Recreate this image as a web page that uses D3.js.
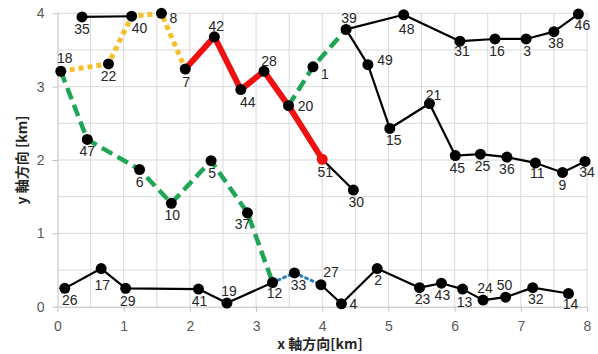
<!DOCTYPE html>
<html>
<head>
<meta charset="utf-8">
<script src="https://cdn.jsdelivr.net/npm/d3@7"></script>
<style>
  body { margin: 0; background: #fff; }
  .tick text { font-family: "Liberation Sans", Arial, sans-serif; font-size: 14px; fill: #595959; }
  .ptlabel { font-family: "Liberation Sans", Arial, sans-serif; font-size: 14px; fill: #262626; }
  .title { font-family: "Noto Sans CJK JP", sans-serif; font-size: 14px; font-weight: bold; fill: #262626; }
</style>
</head>
<body>
<script>
// point numbers and their coordinates [km]
var ids = [35, 40, 8, 18, 22, 7, 42, 44, 28, 20, 47, 6, 5, 39, 48, 31, 16, 3, 38, 46,
           1, 49, 15, 21, 45, 25, 36, 11, 9, 34, 51, 10, 37, 26, 17, 29, 41, 19, 12, 33,
           30, 27, 4, 2, 23, 43, 13, 24, 50, 32, 14];
var xKm = [0.37, 1.12, 1.57, 0.05, 0.77, 1.93, 2.37, 2.77, 3.12, 3.49, 0.45, 1.24, 2.32, 4.36, 5.23, 6.08, 6.61, 7.08, 7.50, 7.87,
           3.86, 4.69, 5.02, 5.62, 6.01, 6.39, 6.79, 7.22, 7.63, 7.97, 4.00, 1.72, 2.87, 0.11, 0.66, 1.03, 2.13, 2.56, 3.25, 3.58,
           4.47, 3.98, 4.29, 4.83, 5.47, 5.80, 6.12, 6.43, 6.77, 7.18, 7.72];
var yKm = [3.95, 3.96, 4.00, 3.21, 3.31, 3.24, 3.68, 2.96, 3.21, 2.74, 2.28, 1.87, 1.99, 3.78, 3.98, 3.62, 3.65, 3.65, 3.75, 3.99,
           3.27, 3.30, 2.43, 2.77, 2.06, 2.08, 2.04, 1.96, 1.83, 1.98, 2.01, 1.41, 1.28, 0.25, 0.52, 0.25, 0.24, 0.05, 0.33, 0.46,
           1.59, 0.30, 0.04, 0.52, 0.26, 0.32, 0.24, 0.09, 0.13, 0.26, 0.18];

// routes, as sequences of point numbers
var blackRoutes = [[35, 40], [51, 30], [39, 48, 31, 16, 3, 38, 46],
                   [39, 49, 15, 21, 45, 25, 36, 11, 9, 34],
                   [26, 17, 29, 41, 19, 12], [27, 4, 2, 23, 43, 13, 24, 50, 32, 14]];
var yellowRoutes = [[18, 22, 40, 8, 7]];
var redRoutes = [[7, 42, 44, 28, 20, 51]];
var greenRoutes = [[18, 47, 6, 10, 5, 37, 12], [20, 1, 39]];
var blueRoutes = [[12, 33, 27]];

var xTicks = [0, 1, 2, 3, 4, 5, 6, 7, 8];
var yTicks = [0, 1, 2, 3, 4];

var margin = {top: 13.3, right: 11, bottom: 47.3, left: 57.5},
    W = 598, H = 354,
    width = W - margin.left - margin.right,
    height = H - margin.top - margin.bottom;

var svg = d3.select("body").append("svg")
    .attr("width", W)
    .attr("height", H);

var g = svg.append("g")
    .attr("transform", "translate(" + margin.left + "," + margin.top + ")");

var x = d3.scaleLinear().domain([0, 8]).range([0, width]);
var y = d3.scaleLinear().domain([0, 4]).range([height, 0]);

var pts = {};
ids.forEach(function(id, i) { pts[id] = {id: id, x: xKm[i], y: yKm[i]}; });

// grid every 0.5 km
g.append("g").selectAll("line")
    .data(d3.range(0.5, 8.01, 0.5))
    .enter().append("line")
    .attr("x1", function(d) { return x(d); }).attr("x2", function(d) { return x(d); })
    .attr("y1", 0).attr("y2", height)
    .attr("stroke", "#d9d9d9");
g.append("g").selectAll("line")
    .data(d3.range(0.5, 4.01, 0.5))
    .enter().append("line")
    .attr("x1", 0).attr("x2", width)
    .attr("y1", function(d) { return y(d); }).attr("y2", function(d) { return y(d); })
    .attr("stroke", "#d9d9d9");

// axes
var xAxis = d3.axisBottom(x).tickValues(xTicks).tickSize(5).tickPadding(9).tickFormat(d3.format("d"));
var yAxis = d3.axisLeft(y).tickValues(yTicks).tickSize(5).tickPadding(8).tickFormat(d3.format("d"));

var gx = g.append("g").attr("transform", "translate(0," + height + ")").call(xAxis);
var gy = g.append("g").call(yAxis);
[gx, gy].forEach(function(a) {
  a.select(".domain").attr("stroke", "#bfbfbf").attr("d", a === gx ? "M0,0.5H" + width : "M0.5," + height + "V0");
  a.selectAll(".tick line").attr("stroke", "#bfbfbf");
});

// routes
var line = d3.line()
    .x(function(id) { return x(pts[id].x); })
    .y(function(id) { return y(pts[id].y); });

function drawRoutes(routes, color, w, dash, cap) {
  g.append("g").selectAll("path")
      .data(routes)
      .enter().append("path")
      .attr("d", line)
      .attr("fill", "none")
      .attr("stroke", color)
      .attr("stroke-width", w)
      .attr("stroke-dasharray", dash)
      .attr("stroke-linecap", cap || "butt")
      .attr("stroke-linejoin", "round");
}
drawRoutes(blackRoutes, "#000", 2.2, null);
drawRoutes(yellowRoutes, "#f5c02c", 5, "5,4");
drawRoutes(greenRoutes, "#1fa556", 4.5, "12,6");
drawRoutes(redRoutes, "#ee1111", 6, null);
drawRoutes(blueRoutes, "#2a7fc0", 3, "2,4", "round");

// markers
g.append("g").selectAll("circle")
    .data(ids.map(function(id) { return pts[id]; }))
    .enter().append("circle")
    .attr("cx", function(d) { return x(d.x); })
    .attr("cy", function(d) { return y(d.y); })
    .attr("r", 5.5)
    .attr("fill", function(d) { return d.id === 51 ? "#ee1111" : "#000"; });

// label offsets (dx, dy) relative to marker
var below = [0, 17], above = [2, -8], right = [13, 5];
var labelOff = {
  35: below, 40: [8, 17], 8: [12, 10], 18: [4, -8], 22: below, 7: [1, 18], 42: [2, -6], 44: [7, 17],
  28: [5, -5], 20: [17, 5], 47: below, 6: below, 5: [1, 17], 39: [3, -6], 48: [3, 19], 31: [2, 15],
  16: [2, 17], 3: [1, 17], 38: [2, 16], 46: [4, 16], 1: [12, 12], 49: [17, 0], 15: [4, 17],
  21: [4, -4], 45: [2, 17], 25: [2, 17], 36: [0, 17], 11: [2, 15], 9: [0, 18], 34: [2, 16],
  51: [3, 18], 10: [1, 17], 37: [-5, 16], 26: [5, 17], 17: [1, 21], 29: [2, 18], 41: [1, 17],
  19: [2, -7], 12: [2, 16], 33: [4, 17], 30: [3, 17], 27: [10, -8], 4: [12, 5], 2: [1, 16],
  23: [3, 16], 43: [1, 17], 13: [2, 18], 24: [2, -7], 50: [-1, -7], 32: [3, 16], 14: [2, 16]
};

g.append("g").selectAll("text")
    .data(ids.map(function(id) { return pts[id]; }))
    .enter().append("text")
    .attr("class", "ptlabel")
    .attr("text-anchor", "middle")
    .attr("x", function(d) { return x(d.x) + labelOff[d.id][0]; })
    .attr("y", function(d) { return y(d.y) + labelOff[d.id][1]; })
    .text(function(d) { return d.id; });

// axis titles
svg.append("text")
    .attr("class", "title")
    .attr("text-anchor", "middle")
    .attr("x", 320)
    .attr("y", 349)
    .text("x 軸方向[km]");

svg.append("text")
    .attr("class", "title")
    .attr("text-anchor", "middle")
    .attr("transform", "translate(27,160) rotate(-90)")
    .text("y 軸方向 [km]");
</script>
</body>
</html>
